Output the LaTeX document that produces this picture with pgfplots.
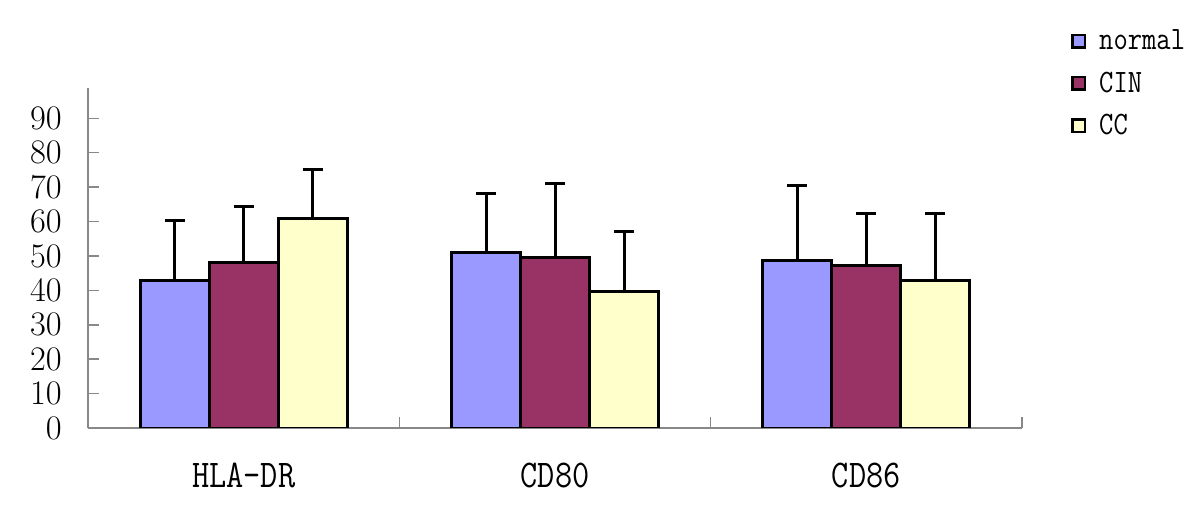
\documentclass[border=0pt]{standalone}
\usepackage{pgfplots}
\pgfplotsset{compat=1.18}
\usepackage{fontspec}
\newfontfamily\monofont[FakeStretch=0.85]{Latin Modern Mono}
\definecolor{cnormal}{HTML}{9999FF}
\definecolor{ccin}{HTML}{993366}
\definecolor{ccc}{HTML}{FFFFCC}
\definecolor{axgray}{HTML}{888888}
\begin{document}
\begin{tikzpicture}
\useasboundingbox (-44bp,-38.5bp) rectangle (556bp,214bp);
\begin{axis}[
  name=ax, at={(0,0)}, anchor=south west,
  scale only axis, width=467bp, height=170bp,
  xmin=-0.5, xmax=2.5, ymin=0, ymax=98.8,
  axis x line*=bottom, axis y line*=left,
  axis line style={axgray, line width=0.75bp, -},
  ybar=0pt, bar width=34.5bp,
  xtick={0,1,2}, xticklabels={HLA-DR,CD80,CD86},
  major x tick style={draw=none},
  minor xtick={0.5,1.5,2.5},
  minor x tick style={axgray, line width=0.75bp},
  minor tick length=5.5bp,
  ytick={0,10,...,90},
  y tick style={axgray, line width=0.75bp},
  major tick length=5.5bp,
  tick align=inside,
  xticklabel style={font=\fontsize{19.7}{23}\monofont, anchor=base, yshift=-29.5bp, inner sep=0pt},
  yticklabel style={font=\fontsize{18.5}{21}\selectfont, anchor=east, xshift=-13bp, inner sep=0pt},
  legend style={at={(1.0525,1.184)}, anchor=north west, draw=none, fill=none,
    font=\fontsize{16.4}{19}\monofont, inner sep=0pt, row sep=5.5bp,
    /tikz/every odd column/.append style={column sep=4.5bp}},
  legend cell align=left,
  legend image code/.code={\draw[#1, line width=1.2bp] (0bp,-3.1bp) rectangle (6.2bp,3.1bp);},
  every axis plot/.append style={draw=black, line width=1.5bp},
  error bars/y dir=plus, error bars/y explicit,
  error bars/error bar style={black, line width=1.5bp},
  error bars/error mark options={black, line width=1.5bp, mark size=5bp, rotate=90},
]
\addplot[fill=cnormal] coordinates {(0,42.8) +- (0,17.4) (1,51.1) +- (0,17.1) (2,48.8) +- (0,21.7)};
\addplot[fill=ccin] coordinates {(0,48.1) +- (0,16.4) (1,49.5) +- (0,21.6) (2,47.2) +- (0,15.0)};
\addplot[fill=ccc] coordinates {(0,60.8) +- (0,14.2) (1,39.8) +- (0,17.3) (2,42.8) +- (0,19.4)};
\legend{normal,CIN,CC}
\end{axis}
\end{tikzpicture}
\end{document}
